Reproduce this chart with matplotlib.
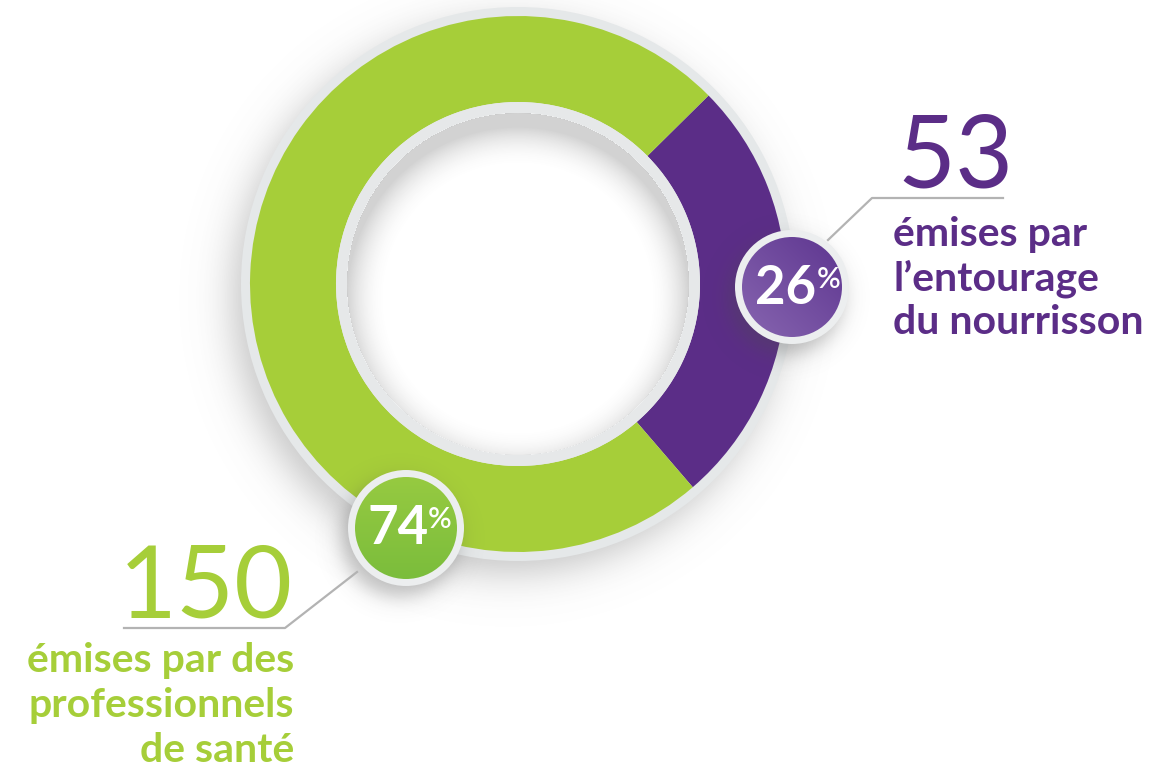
import numpy as np
import matplotlib
matplotlib.use("Agg")
import matplotlib.pyplot as plt
from matplotlib.patches import Circle

# ---- data ----
labels = ["émises par\nl’entourage\ndu nourrisson", "émises par des\nprofessionnels\nde santé"]
counts = [53, 150]
percents = [26, 74]
ring_colors = ["#5b2d87", "#a6ce39"]
text_colors = ["#5b2d87", "#a6ce39"]

W, H = 1174, 769
fig = plt.figure(figsize=(W / 100, H / 100), dpi=100)
ax = fig.add_axes([0, 0, 1, 1])
ax.set_xlim(0, W)
ax.set_ylim(0, H)
ax.axis("off")

def Y(y):
    return H - y

cx, cy = 518, Y(284)
R_rim, R_out, R_in, R_hole = 277, 268, 182, 171

# soft drop shadow behind ring
xx, yy = np.meshgrid(np.arange(W) + 0.5, np.arange(H) + 0.5)
yy_up = H - yy
d = np.hypot(xx - (cx - 10), yy_up - (cy - 14))
sh = 0.35 / (1 + np.exp((d - (R_rim - 2)) / 12.0))
shadow = np.zeros((H, W, 4))
shadow[..., :3] = 0.35
shadow[..., 3] = sh
ax.imshow(shadow, extent=(0, W, 0, H), origin="upper", zorder=0, interpolation="bilinear")

ax.add_patch(Circle((cx, cy), R_rim, color="#e5e8e9", zorder=1, lw=0))

start = -49.3
ax.pie(counts, colors=ring_colors, startangle=start, counterclock=True,
       center=(cx, cy), radius=R_out, wedgeprops=dict(width=R_out - R_in, lw=0),
       frame=True)
for w in ax.patches[-2:]:
    w.set_zorder(2)
ax.set_xlim(0, W)
ax.set_ylim(0, H)
ax.set_aspect("equal")
ax.axis("off")

ax.add_patch(Circle((cx, cy), R_in, color="#e6e8e9", zorder=3, lw=0))
ax.add_patch(Circle((cx, cy), R_hole, color="white", zorder=4, lw=0))

# inner shadow in hole
d2 = np.hypot(xx - cx, yy_up - (cy - 14))
inner = np.clip((d2 - (R_hole - 40)) / 40.0, 0, 1) ** 2 * 0.32
mask_hole = np.hypot(xx - cx, yy_up - cy) <= R_hole
ish = np.zeros((H, W, 4))
ish[..., :3] = 0.45
ish[..., 3] = np.where(mask_hole, inner, 0)
ax.imshow(ish, extent=(0, W, 0, H), origin="upper", zorder=5, interpolation="bilinear")

# badges
badges = [
    dict(c=(792, Y(287)), r=57, ri=50, light="#8765b0", dark="#5e3690", pct=percents[0],
         num_xy=(786, Y(289)), pc_xy=(829, Y(280)), diag=True),
    dict(c=(406, Y(528)), r=58, ri=51, light="#96ca41", dark="#7bbd3c", pct=percents[1],
         num_xy=(398, Y(529)), pc_xy=(440, Y(520)), diag=False),
]
for b in badges:
    bx, by = b["c"]
    ds = np.hypot(xx - (bx - 6), yy_up - (by - 10))
    bsh = 0.35 / (1 + np.exp((ds - b["r"]) / 6.0))
    bs = np.zeros((H, W, 4))
    bs[..., :3] = 0.3
    bs[..., 3] = bsh
    ax.imshow(bs, extent=(0, W, 0, H), origin="upper", zorder=6, interpolation="bilinear")
    ax.add_patch(Circle((bx, by), b["r"], color="#eceeef", zorder=7, lw=0))
    clip = Circle((bx, by), b["ri"], transform=ax.transData, facecolor="none", lw=0)
    ax.add_patch(clip)
    n = 64
    u, v = np.meshgrid(np.linspace(0, 1, n), np.linspace(0, 1, n))  # v: 0 top -> 1 bottom
    if b["diag"]:
        t = np.clip((u + (1 - v)) / 2.0, 0, 1)  # 1 at top-right (dark)
    else:
        t = v  # 1 at bottom (dark)
    c1 = np.array(matplotlib.colors.to_rgb(b["light"]))
    c2 = np.array(matplotlib.colors.to_rgb(b["dark"]))
    grad = (1 - t)[..., None] * c1 + t[..., None] * c2
    im = ax.imshow(grad, extent=(bx - b["ri"], bx + b["ri"], by - b["ri"], by + b["ri"]),
                   origin="upper", zorder=8, interpolation="bilinear")
    im.set_clip_path(clip)
    ax.text(*b["num_xy"], f"{b['pct']}", ha="center", va="center", color="white",
            fontsize=38, fontweight="bold", family="Lato", zorder=9)
    ax.text(*b["pc_xy"], "%", ha="center", va="center", color="white",
            fontsize=21, fontweight="semibold", family="Lato", zorder=9)

ax.set_xlim(0, W)
ax.set_ylim(0, H)

# leader lines
ax.plot([828, 872, 1003], [Y(240), Y(198), Y(198)], color="#b3b3b3", lw=1.6, zorder=6)
ax.plot([357, 285, 124], [Y(572), Y(628), Y(628)], color="#b3b3b3", lw=1.6, zorder=6)

# numbers
ax.text(897, Y(187), f"{counts[0]}", ha="left", va="baseline", color=text_colors[0],
        fontsize=72, fontweight="normal", family="Lato")
ax.text(293, Y(617), f"{counts[1]}", ha="right", va="baseline", color=text_colors[1],
        fontsize=72, fontweight="normal", family="Lato")

# labels
for i, line in enumerate(labels[0].split("\n")):
    ax.text(893, Y(246 + 44 * i), line, ha="left", va="baseline", color=text_colors[0],
            fontsize=29.5, fontweight="bold", family="Lato")
for i, line in enumerate(labels[1].split("\n")):
    ax.text(294, Y(672 + 45 * i), line, ha="right", va="baseline", color=text_colors[1],
            fontsize=29.5, fontweight="bold", family="Lato")

fig.savefig("out.png", dpi=100)
